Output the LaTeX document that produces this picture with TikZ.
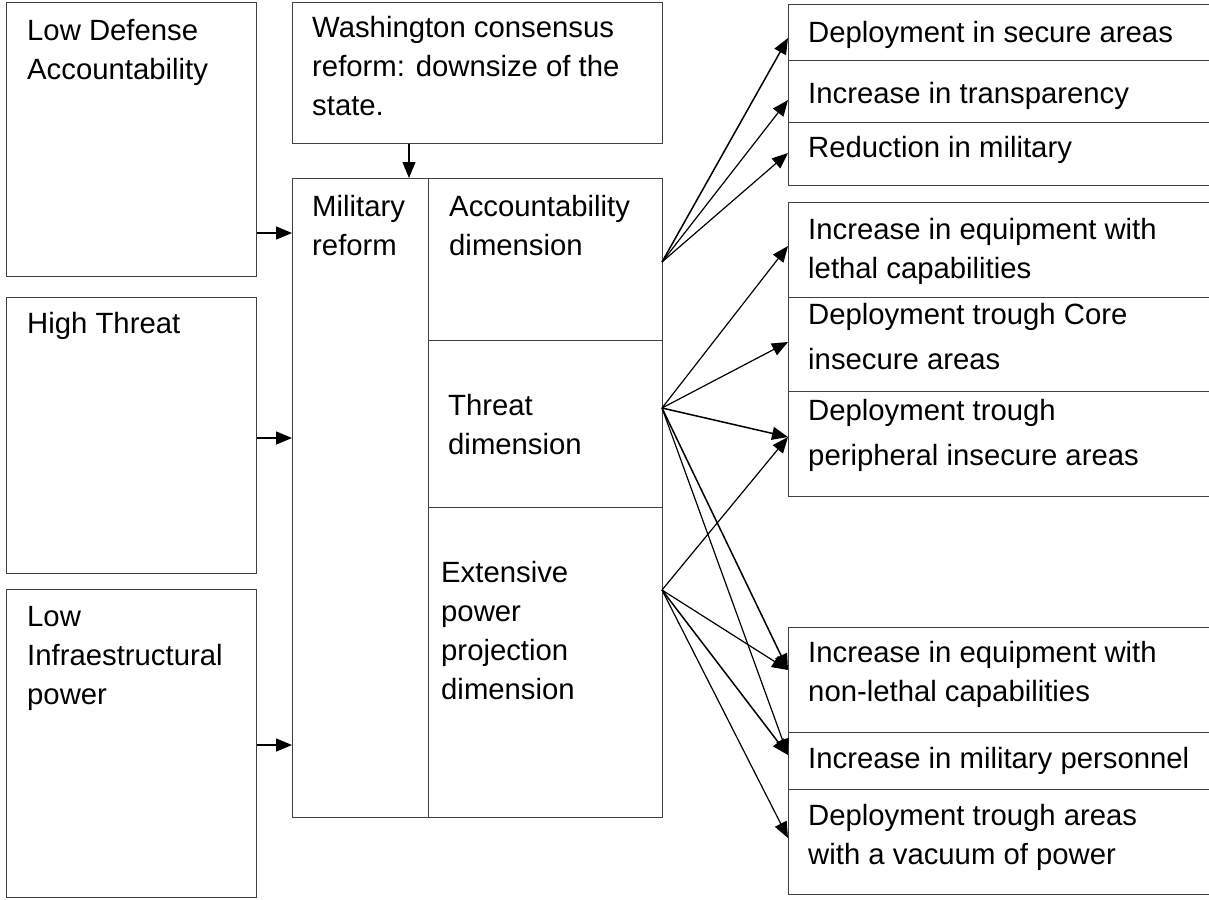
\documentclass[tikz,border=0pt]{standalone}
\usepackage{fontspec}
\setmainfont{Liberation Sans}
\usetikzlibrary{arrows.meta}
\tikzset{
  box/.style={draw=black!75, line width=1.2pt, anchor=north west, inner sep=0pt},
  txt/.style={anchor=base west, align=left, inner sep=0pt, font=\fontsize{29.3}{39}\selectfont},
  wide txt/.style={txt, font=\fontsize{29.3}{45}\selectfont},
  arr/.style={line width=1.5pt, -{Triangle[length=16pt,width=13pt]}},
  thin arr/.style={line width=1.2pt, -{Triangle[length=16pt,width=13pt]}}
}
\begin{document}
\begin{tikzpicture}[x=1pt,y=-1pt]
\useasboundingbox (0,0) rectangle (1209,899);
\clip (0,0) rectangle (1209,899);
% left boxes
\node[box, minimum width=250pt, minimum height=274pt] (ld) at (6,2) {};
\node[box, minimum width=250pt, minimum height=276pt] (ht) at (6,297) {};
\node[box, minimum width=250pt, minimum height=308pt] (li) at (6,589) {};
\node[txt] (tld) at (27,79) {Low Defense\\Accountability};
\node[txt] (tht) at (27,333) {High Threat};
\node[txt] (tli) at (27,704) {Low\\Infraestructural\\power};
% Washington
\node[box, minimum width=370pt, minimum height=141pt] (wc) at (292,2) {};
\node[txt] (twc) at (312,115) {Washington consensus\\reform: downsize of the\\state.};
% Military reform
\node[box, minimum width=136pt, minimum height=639pt] (mr) at (292,178) {};
\node[box, minimum width=234pt, minimum height=162pt] (ad) at (428,178) {};
\node[box, minimum width=234pt, minimum height=167pt] (td) at (428,340) {};
\node[box, minimum width=234pt, minimum height=310pt] (ed) at (428,507) {};
\node[txt] (tmr) at (312,255) {Military\\reform};
\node[txt] (tad) at (449,255) {Accountability\\dimension};
\node[txt] (ttd) at (448,454) {Threat\\dimension};
\node[txt] (ted) at (441,699) {Extensive\\power\\projection\\dimension};
% right group 1
\node[box, minimum width=440pt, minimum height=56pt] (r1) at (788,4) {};
\node[box, minimum width=440pt, minimum height=62pt] (r2) at (788,60) {};
\node[box, minimum width=440pt, minimum height=63pt] (r3) at (788,122) {};
\node[txt] (t1) at (808,42) {Deployment in secure areas};
\node[txt] (t2) at (808,103) {Increase in transparency};
\node[txt] (t3) at (808,157) {Reduction in military};
% right group 2
\node[box, minimum width=440pt, minimum height=95pt] (r4) at (788,202) {};
\node[box, minimum width=440pt, minimum height=94pt] (r5) at (788,297) {};
\node[box, minimum width=440pt, minimum height=105pt] (r6) at (788,391) {};
\node[txt] (t4) at (808,278) {Increase in equipment with\\lethal capabilities};
\node[wide txt] (t5) at (808,369) {Deployment trough Core\\insecure areas};
\node[wide txt] (t6) at (808,465) {Deployment trough\\peripheral insecure areas};
% right group 3
\node[box, minimum width=440pt, minimum height=105pt] (r7) at (788,627) {};
\node[box, minimum width=440pt, minimum height=57pt] (r8) at (788,732) {};
\node[box, minimum width=440pt, minimum height=105pt] (r9) at (788,789) {};
\node[txt] (t7) at (808,701) {Increase in equipment with\\non-lethal capabilities};
\node[txt] (t8) at (808,768) {Increase in military personnel};
\node[txt] (t9) at (808,864) {Deployment trough areas\\with a vacuum of power};
% connector points
\coordinate (sA) at (662,262);
\coordinate (sT) at (662,408);
\coordinate (sE) at (662,590);
\coordinate (e1) at (788,38);
\coordinate (e2) at (788,100);
\coordinate (e3) at (788,153);
\coordinate (e4) at (788,246);
\coordinate (e5) at (788,342);
\coordinate (e6) at (788,437);
\coordinate (e7) at (788,670);
\coordinate (e8) at (788,755);
\coordinate (e9) at (788,838);
% left arrows
\draw[arr] (ld.east |- 0,233) -- (mr.west |- 0,233);
\draw[arr] (ht.east |- 0,438) -- (mr.west |- 0,438);
\draw[arr] (li.east |- 0,745) -- (mr.west |- 0,745);
\draw[thin arr] (wc.south -| 409,0) -- (mr.north -| 409,0);
% right arrows
\draw[arr] (sA) -- (e1);
\draw[thin arr] (sA) -- (e2);
\draw[thin arr] (sA) -- (e3);
\draw[thin arr] (sT) -- (e4);
\draw[thin arr] (sT) -- (e5);
\draw[arr] (sT) -- (e6);
\draw[arr] (sT) -- (e7);
\draw[thin arr] (sT) -- (e8);
\draw[thin arr] (sE) -- (e6);
\draw[thin arr] (sE) -- (e7);
\draw[arr] (sE) -- (e8);
\draw[thin arr] (sE) -- (e9);
\end{tikzpicture}
\end{document}
